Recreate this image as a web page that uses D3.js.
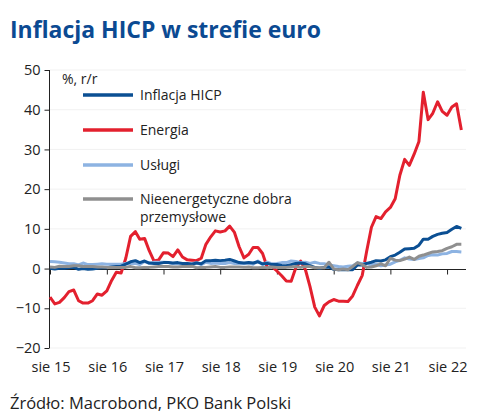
<!DOCTYPE html>
<html><head><meta charset="utf-8">
<script src="https://cdn.jsdelivr.net/npm/d3@7"></script>
<style>body{margin:0;background:#fff}svg{display:block}</style>
</head><body><svg id="c" width="491" height="420"></svg>
<script>
// monthly data, Aug 2015 .. Nov 2022 (% y/y)
const startYear = 2015, startMonth = 7; // August (0-based)
const hicp = [0.1,-0.1,0.1,0.1,0.2,
 0.3,-0.2,0.0,-0.2,-0.1,0.1,0.2,0.2,0.4,0.5,0.6,1.1,
 1.7,2.0,1.5,1.9,1.4,1.3,1.3,1.5,1.5,1.4,1.5,1.3,
 1.3,1.1,1.4,1.2,2.0,2.0,2.1,2.0,2.1,2.3,1.9,1.5,
 1.4,1.5,1.4,1.7,1.2,1.3,1.0,1.0,0.8,0.7,1.0,1.3,
 1.4,1.2,0.7,0.3,0.1,0.3,0.4,-0.2,-0.3,-0.3,-0.3,-0.3,
 0.9,0.9,1.3,1.6,2.0,1.9,2.2,3.0,3.4,4.1,4.9,5.0,
 5.1,5.9,7.4,7.4,8.1,8.6,8.9,9.1,9.9,10.6,10.1];
const energia = [-7.2,-8.9,-8.5,-7.3,-5.8,
 -5.4,-8.1,-8.7,-8.7,-8.1,-6.4,-6.7,-5.6,-3.0,-0.9,-1.1,2.6,
 8.1,9.3,7.4,7.6,4.5,1.9,2.2,4.0,3.9,3.0,4.7,2.9,
 2.2,2.1,2.0,2.6,6.1,8.0,9.5,9.2,9.5,10.7,9.1,5.5,
 2.7,3.6,5.3,5.3,3.8,0.2,0.5,-0.6,-1.8,-3.1,-3.2,0.2,
 1.9,-0.3,-4.5,-9.7,-11.9,-9.3,-8.4,-7.8,-8.2,-8.2,-8.3,-6.9,
 -4.2,-1.7,4.3,10.4,13.1,12.6,14.3,15.4,17.6,23.5,27.5,26.0,
 28.8,32.0,44.4,37.5,39.1,42.0,39.6,38.6,40.7,41.5,34.9];
const uslugi = [1.8,1.7,1.6,1.4,1.2,
 1.2,0.9,1.4,1.0,1.0,1.1,1.2,1.1,1.1,1.1,1.1,1.3,
 1.2,1.3,1.0,1.8,1.3,1.6,1.6,1.6,1.5,1.2,1.2,1.3,
 1.2,1.3,1.5,1.0,1.6,1.3,1.4,1.3,1.3,1.5,1.3,1.3,
 1.2,1.4,1.1,1.9,1.0,1.6,1.2,1.3,1.5,1.5,1.9,1.8,
 1.5,1.6,1.3,1.6,1.3,1.2,0.9,0.7,0.5,0.4,0.6,0.7,
 1.4,1.3,1.3,0.9,1.1,0.7,0.9,1.1,1.7,2.1,2.7,2.4,
 2.3,2.5,2.7,3.3,3.5,3.4,3.7,3.8,4.3,4.3,4.2];
const dobra = [0.4,0.3,0.6,0.5,0.5,
 0.7,0.7,0.5,0.5,0.5,0.4,0.4,0.3,0.3,0.3,0.3,0.3,
 0.5,0.2,0.2,0.3,0.3,0.4,0.5,0.5,0.5,0.4,0.4,0.5,
 0.5,0.6,0.2,0.3,0.3,0.4,0.5,0.3,0.3,0.4,0.4,0.4,
 0.3,0.4,0.2,0.2,0.3,0.2,0.4,0.3,0.3,0.3,0.4,0.5,
 0.3,0.5,0.5,0.2,0.2,0.2,1.6,-0.1,-0.3,-0.1,-0.3,0.5,
 1.5,1.0,0.3,0.4,0.7,1.2,0.7,2.6,2.1,2.0,2.4,2.9,
 2.3,3.1,3.4,3.8,4.2,4.3,4.5,5.1,5.5,6.1,6.1];
const yTicks = [-20,-10,0,10,20,30,40,50];
const xTickLabels = ["sie 15","sie 16","sie 17","sie 18","sie 19","sie 20","sie 21","sie 22"];
const seriesNames = ["Inflacja HICP","Energia","Usługi","Nieenergetyczne dobra przemysłowe"];
const seriesColors = ["#0b4f93","#e3202e","#8db3e2","#8f8f8f"];

const svg = d3.select("#c");
const FONT = "'Open Sans', sans-serif";
const dates = hicp.map((_, i) => new Date(startYear, startMonth + i, 1));
const x = d3.scaleTime().domain([new Date(2015,7,1), new Date(2022,11,1)]).range([50, 466]);
const y = d3.scaleLinear().domain([-20, 50]).range([348, 70]);

svg.append("text").attr("x", 10).attr("y", 38).text("Inflacja HICP w strefie euro")
  .attr("font-family", FONT).attr("font-weight", 700).attr("font-size", 23)
  .attr("fill", "#0b4a92").attr("textLength", 311).attr("lengthAdjust", "spacingAndGlyphs");

// gridlines
svg.append("g").selectAll("line").data(yTicks.filter(d => d !== 0)).join("line")
  .attr("x1", 50).attr("x2", 466).attr("y1", d => y(d)).attr("y2", d => y(d))
  .attr("stroke", "#f1f1f1").attr("stroke-width", 1);

// y axis
const yAxis = svg.append("g").attr("transform", "translate(49.5,0)")
  .call(d3.axisLeft(y).tickValues(yTicks).tickSize(5).tickPadding(4).tickFormat(d3.format("d")));
yAxis.selectAll("text").attr("font-family", FONT).attr("font-size", 14.5).attr("fill", "#222");
yAxis.selectAll("line,path").attr("stroke", "#222");
yAxis.select(".domain").attr("d", `M0,${y(-20)}V${y(50)}`);

// x axis on zero line
const tickDates = xTickLabels.map((_, i) => new Date(2015 + i, 7, 1));
const xAxis = svg.append("g").attr("transform", `translate(0,${Math.round(y(0)) + 0.5})`)
  .call(d3.axisBottom(x).tickValues(tickDates).tickSize(5).tickFormat((d, i) => ""));
xAxis.selectAll("line,path").attr("stroke", "#222");
xAxis.select(".domain").attr("d", `M50,0H466`);
svg.append("g").selectAll("text").data(tickDates).join("text")
  .attr("x", d => x(d) + 1).attr("y", 372).attr("text-anchor", "middle")
  .text((d, i) => xTickLabels[i])
  .attr("font-family", FONT).attr("font-size", 14.5).attr("fill", "#222");

// lines
const line = d3.line().x((d, i) => x(dates[i])).y(d => y(d)).curve(d3.curveLinear);
const order = [[energia, 1], [uslugi, 2], [hicp, 0], [dobra, 3]];
order.forEach(([arr, k]) => {
  svg.append("path").datum(arr).attr("d", line).attr("fill", "none")
    .attr("stroke", seriesColors[k]).attr("stroke-width", 3).attr("stroke-linejoin", "round");
});

// legend
svg.append("text").attr("x", 62).attr("y", 84).text("%, r/r")
  .attr("font-family", FONT).attr("font-size", 14).attr("fill", "#222");
const legY = [95, 130, 165, 199];
seriesNames.forEach((n, i) => {
  svg.append("line").attr("x1", 83).attr("x2", 133).attr("y1", legY[i]).attr("y2", legY[i])
    .attr("stroke", seriesColors[i]).attr("stroke-width", 3.5);
  const t = svg.append("text").attr("x", 140).attr("y", legY[i] + 5)
    .attr("font-family", FONT).attr("font-size", 14).attr("fill", "#222");
  if (i === 3) {
    t.append("tspan").attr("x", 140).text("Nieenergetyczne dobra");
    t.append("tspan").attr("x", 140).attr("dy", 18).text("przemysłowe");
  } else t.text(n);
});

svg.append("text").attr("x", 10).attr("y", 409).text("Źródło: Macrobond, PKO Bank Polski")
  .attr("font-family", FONT).attr("font-size", 16.5).attr("fill", "#222");
</script></body></html>
